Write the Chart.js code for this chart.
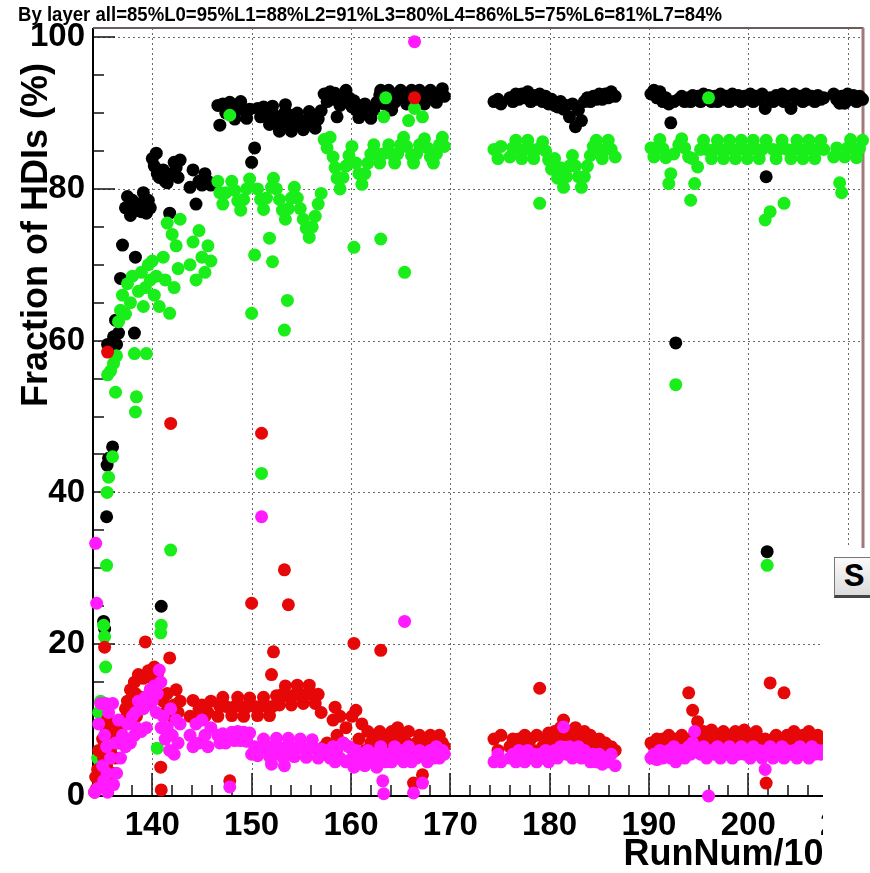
<!DOCTYPE html>
<html>
<head>
<meta charset="utf-8">
<script src="https://cdn.jsdelivr.net/npm/chart.js@4.4.1/dist/chart.umd.min.js"></script>
<style>
  html, body { margin: 0; padding: 0; background: #fff; }
  #wrap { position: relative; width: 870px; height: 873px; overflow: hidden; }
  #cover { position: absolute; left: 823px; top: 548px; width: 47px; height: 325px; background: #fff; }
  #sBtn {
    position: absolute; left: 834px; top: 557px; width: 46px; height: 41px;
    box-sizing: border-box; border: 1px solid #777; border-bottom: 3px solid #444;
    background: linear-gradient(#fafafa, #dcdcdc);
    font: bold 34px "Liberation Mono", monospace; line-height: 38px; padding-left: 9px; color: #000;
  }
</style>
</head>
<body>
<div id="wrap">
  <canvas id="hdiChart" width="870" height="873"></canvas>
  <div id="cover"></div>
  <div id="sBtn">S</div>
</div>
<script>
// HDI fractions per run (run number / 1000), split into run periods.
// Columns: black, green, red, magenta series; null = no point shown.
const rampRuns = [134.2,134.3,134.4,134.5,134.6,134.8,135.0,135.1,135.2,135.3,135.4,135.45,135.5,135.6,135.8,136.0,136.1,136.3,136.4,136.6,136.8,137.0,137.3,137.5,137.8,138.0,138.2,138.3,138.4,138.6,138.9,139.1,139.3,139.4,139.6,139.8];
const rampBlack = [null,null,null,null,null,null,null,23,22,null,36.8,43.6,59.5,44.5,58.8,46,60.5,62.7,59.5,61,68.2,72.6,77.5,79,76.5,78.5,61,71,77.2,78,77,79.5,78,76.8,78.5,77.5];
const rampGreen = [null,null,null,5,11,12.5,10,22.5,21,17,30.4,40,55.5,42,56,44.7,57,53.2,58,62.5,64,66,63.5,67.5,65,68.5,58.3,50.6,52.6,66.5,69,64.5,67,58.3,70,68];
const rampRed = [0.5,2.5,1,3.5,6,1.5,7.5,5,19.6,9,4,10,58.5,2,6,3,8,5,9.5,7,8.5,10,11.5,12.5,14,12,15,13.5,10.5,16,13,15.5,20.3,12,16.5,14];
const rampMagenta = [0.5,33.3,25.4,1,9.5,12.2,4,2,8,12.2,6.5,3,0.5,11,5,12.2,1.5,7,3,10,5,8,6.5,9.5,7,10.5,8,11,9,12.5,8.5,11.5,13,9,12,14];

const riseRuns = [140.0,140.2,140.4,140.5,140.7,140.85,140.9,141.1,141.3,141.5,141.75,141.85,142.0,142.2,142.4,142.6,142.8,143.8,144.1,144.4,144.7,145.0,145.3,145.6,145.9];
const riseBlack = [84,83,84.7,82,81.5,null,25,82.5,81,80.8,76.8,null,82,83.5,82.8,81.5,83.8,80.2,82.5,78,81,80.5,82,81,80.5];
const riseGreen = [70.5,66,68.5,6.3,64.5,21.5,22.5,71,68,75.5,63.6,32.4,74,67,72.5,69.5,76,70,73,68,74.5,71,69,72.5,70.5];
const riseRed = [15.5,17,14,16,13,3.8,0.8,12.5,11,13.5,18.2,49.1,10.5,12,14,11,12.5,10.5,12.6,10,11.5,12,10.5,11,12.5];
const riseMagenta = [12.5,14.5,11,13.5,16.6,15,9,10.5,7.5,9,6,11.5,8,5.5,10,7,9.5,8,6.5,9.5,7,10,8,6.5,9];

const midRuns = [146.6,146.8,147.1,147.4,147.8,148.0,148.3,148.6,148.9,149.2,149.5,149.8,150.0,150.3,150.6,150.9,151.0,151.2,151.5,151.8,152.0,152.1,152.2,152.5,152.8,153.1,153.3,153.4,153.6,153.7,154.0,154.3,154.6,154.9,155.2,155.5,155.8,156.1,156.4,156.7,157.0];
const midBlack = [91,88.4,91.2,90,91.4,90.3,89.2,90.4,91.5,90.4,89.3,90.5,83.5,85.4,90.6,89.5,null,90.8,89.6,88.5,89.7,90.9,89.8,88.6,87.6,88.8,90,91.1,89.9,88.7,87.6,88.8,90,89,87.8,89,90.2,89.1,88,89.2,90.3];
const midGreen = [81,79.5,78,79.5,89.7,81,79.8,78.4,77.2,78.6,80,81.3,63.6,71.3,80,78.6,42.5,77.3,78.8,73.5,80.2,70.4,81.4,80,78.6,77.2,61.4,76,65.3,77.4,78.8,80.2,78.8,77.4,76,74.8,73.6,75,76.4,78,79.4];
const midRed = [10.5,11.8,13,11.8,2,10.6,11.8,13,11.8,10.5,11.7,12.9,25.4,11.8,10.6,11.8,47.8,13,11.8,10.6,16,11.8,19,13.2,12,13.4,29.8,14.5,13.2,25.2,12,13.3,14.6,13.4,12.2,13.4,14.6,13.4,12.2,13.4,11];
const midMagenta = [8,7,8.2,7,1.2,8.4,7.3,8.5,7.3,8.4,7.2,8.3,5.5,6.5,5.3,6.4,36.8,7.5,6.3,5.2,4.2,5.4,6.6,7.6,6.4,5.2,4,5.3,6.5,7.6,6.4,5.2,6.4,7.5,6.3,5.1,6.3,7.4,6.2,5,6.2];

const lateRuns = [157.3,157.6,157.9,158.2,158.4,158.6,158.9,159.2,159.5,159.8,160.1,160.3,160.5,160.8,161.1,161.4,161.7,162.0,162.3,162.6,162.9,163.0,163.2,163.3,163.5,163.8,164.1,164.4,164.7,165.0,165.3,165.4,165.6,165.8,166.1,166.3,166.4,166.6,166.9,167.2,167.4,167.7,168.0,168.3,168.6,168.9,169.2,169.4];
const lateBlack = [92.5,91.5,92.8,91.8,92.6,89.5,91,92.2,93,92,90.8,91.6,90.4,89.4,90.2,91.2,90.2,89.3,90.4,91.4,92.4,93,92,91.2,92.2,93,90.4,91.4,92.4,93,92,null,91.2,92.2,93,92,91.2,92.2,93,92,91.2,92.2,93,92.2,91.4,92.4,93.2,92.2];
const lateGreen = [86.5,85.4,86.8,84.2,82.8,81.4,80,81.5,83,84.4,85.6,72.3,83.4,82,80.6,82,83.4,84.6,85.8,84.6,83.4,73.4,84.6,89.5,92,85.8,84.6,83.4,84.6,85.8,86.8,69,85.6,89,84.4,83.4,90.6,84.6,85.8,89.5,86.6,85.4,84.2,83.4,84.6,85.8,86.8,85.6];
const lateRed = [6.5,7,6,10,11.7,8,10.5,7,9,6.5,10.5,20.1,11.3,7.5,9.5,6,8.5,7,8,6.5,8.5,19.2,7.5,6,8,6.5,8.5,7,9,7.5,8,6.5,7,8.5,6.5,1.7,92,7,8,2.8,7.5,6.5,8,7,6.5,8,7,6.5];
const lateMagenta = [5.5,6,5,6.5,4.5,6,5,7,4.5,6.5,5,3.8,6,4.5,5.5,4,6,4.5,5.5,3.8,5,6.5,2,0.3,4.5,5.5,4.5,6.5,5,6,4.5,23,5.5,6.5,4.5,0.4,99.4,5,6,1.7,5.5,4.5,6,5,6.5,5,6,5.5];

const blockCRuns = [174.4,174.8,175.1,176.0,176.3,176.6,176.9,177.2,177.5,177.8,178.1,178.4,178.7,179.0,179.3,179.6,179.9,180.2,180.5,180.8,181.1,181.4,181.7,182.0,182.3,182.6,182.9,183.2,183.5,183.8,184.1,184.4,184.7,185.0,185.3,185.6,185.9,186.2,186.6];
const blockCBlack = [91.5,91.8,91.2,92,91.5,92.5,91.8,92.5,92,92.8,91.5,92.3,91.8,92.5,91.5,92.2,91.2,91.8,91,90.8,91.5,90.5,91,89.5,91.2,88.2,90.4,89,91.5,92,91.5,92.2,91.8,92.5,91.8,92.5,92,92.8,92.2];
const blockCGreen = [85.2,84,85.6,84.2,85.4,86.4,85.2,84,85.2,86.4,85.2,84,85.2,78.1,86.2,85,83.8,82.6,84,81.4,82.8,80.2,81.6,83,84.4,83,81.6,80.2,81.6,83,84.4,85.6,86.4,85.2,84,85.2,86.4,85.2,84.2];
const blockCRed = [7.5,6,8,6.5,7.5,6,7.5,6.5,8,6.5,7.5,6,8,14.2,6.5,7.5,8.3,7,8.5,7.5,9,10,8,8.5,7.5,9,8,7,8.5,7.5,8,7,6.5,7.5,6,7,5.8,6.5,6];
const blockCMagenta = [4.5,5.5,4.5,5,5.5,4.5,6,5,4.5,6,5,5.5,4.5,5.5,5,6,4.5,5.5,6,5,6.5,9.1,5.5,6.5,5,6,6.5,5,6,5.5,4.5,5.5,4.5,5.5,4.2,5,4.5,5.5,4];

const blockDRuns = [190.2,190.5,190.8,191.1,191.4,191.7,192.0,192.2,192.5,192.7,193.0,193.3,193.6,194.0,194.2,194.4,194.6,194.9,195.2,195.5,195.8,196.0,196.3,196.6,196.9,197.2,197.5,197.8,198.1,198.4,198.7,199.0,199.3,199.6,199.9,200.2,200.5,200.8,201.1,201.4,201.7,201.8,201.9,202.2,202.5,202.8,203.1,203.4,203.6,203.9,204.3,204.6,204.9,205.2,205.5,205.8,206.1,206.4,206.7,207.0,207.3,207.6,208.6,208.9,209.2,209.4,209.7,210.0,210.3,210.6,210.9,211.2,211.5];
const blockDBlack = [92.5,93,92,92.8,91.5,92,91.2,88.7,91.5,59.7,91.8,92.2,91.5,92,91.5,92.3,91.8,92.2,91.5,92.5,91.8,92.3,91.5,92.2,91.5,92.5,91.8,92.2,91.5,92.5,91.8,92.3,91.5,92.2,91.8,92.5,91.5,92.2,91.8,92.5,90.6,81.6,32.2,92,91.5,92.3,91.8,92.5,91.5,92.2,90.6,92.5,91.8,92.2,91.5,92.5,91.8,92.2,91.5,92.3,91.8,92,92.5,91.8,91.3,92.2,91.3,92.5,91.8,92.3,91.5,92.2,91.8];
const blockDGreen = [85.4,84.2,85.4,86.5,85.3,84.1,80.7,82,84.6,54.2,85.8,86.6,85.4,84.2,78.5,84,80.7,82.9,85.2,86.4,85.2,92,84,85.2,86.4,85.2,84,85.2,86.4,85.2,84,85.2,86.4,85.2,84,85.2,86.4,85.2,84,85.2,75.9,86.4,30.4,77,85.2,84,85.2,86.4,78.1,85.2,84,85.2,86.4,85.2,84,85.2,86.4,85.2,84,85.2,86.4,85.2,84.2,85.4,80.8,79.5,84.2,85.4,86.5,85.3,84.1,85.3,86.4];
const blockDRed = [7,6.5,7.5,6.5,7.5,6.5,8,7,7.5,6,7,8,6.5,13.6,7.5,11.3,8,9.8,7.5,8.5,7.5,6.5,8.7,7.5,8,7,8.5,7.5,8,7,8.5,7.5,8,8.7,7.5,8,7,8.5,7.5,7,7.5,1.7,7,14.9,7.5,8,7,7.5,13.6,8,7,8.5,7,7.5,8,7,8.5,7.5,7,8,7.5,7,7.5,8,7,7.5,8,7,7.5,8,7,7.5,8];
const blockDMagenta = [5,5.5,4.8,6,5,5.5,6,5,6.5,4.5,5.5,6,5,6.5,5.5,7,8.5,6,5.5,6.5,5,0,6,5.5,6.5,5,6,5.5,6.5,5,6,5.5,6.5,5.5,6,5,6.5,5.5,6,5,3.5,6,5.5,6.5,5,6,5.5,6.5,5,6,5.5,6,5,6.5,5.5,6,5,6.5,5.5,6,5.5,6,5.5,6,5,6,5.5,6,5,6.5,5.5,6,5.5];

const headerText = "By layer all=85%L0=95%L1=88%L2=91%L3=80%L4=86%L5=75%L6=81%L7=84%";
const yTitle = "Fraction of HDIs (%)";
const xTitle = "RunNum/1000";

const runs = [...rampRuns, ...riseRuns, ...midRuns, ...lateRuns, ...blockCRuns, ...blockDRuns];
const blackVals = [...rampBlack, ...riseBlack, ...midBlack, ...lateBlack, ...blockCBlack, ...blockDBlack];
const greenVals = [...rampGreen, ...riseGreen, ...midGreen, ...lateGreen, ...blockCGreen, ...blockDGreen];
const redVals = [...rampRed, ...riseRed, ...midRed, ...lateRed, ...blockCRed, ...blockDRed];
const magentaVals = [...rampMagenta, ...riseMagenta, ...midMagenta, ...lateMagenta, ...blockCMagenta, ...blockDMagenta];

const FONT = '"Liberation Sans", Arial, Helvetica, sans-serif';

function toPoints(vals) {
  return runs.map((r, i) => ({ x: r, y: vals[i] })).filter((p) => p.y !== null);
}

function series(vals, color, order) {
  return {
    data: toPoints(vals),
    pointRadius: 6.5,
    pointHoverRadius: 6.5,
    pointBorderWidth: 0,
    pointBackgroundColor: color,
    borderColor: color,
    backgroundColor: color,
    showLine: false,
    clip: false,
    order: order,
  };
}

// ROOT-like frame: dotted grid, inner tick marks, axis lines, header and y title
const rootFrame = {
  id: "rootFrame",
  beforeDatasetsDraw(chart) {
    const { ctx, chartArea: a } = chart;
    const x = chart.scales.x;
    const y = chart.scales.y;
    ctx.save();

    ctx.strokeStyle = "#6a6a6a";
    ctx.lineWidth = 1;
    ctx.setLineDash([2, 3]);
    x.ticks.forEach((t) => {
      const px = Math.round(x.getPixelForValue(t.value)) + 0.5;
      ctx.beginPath(); ctx.moveTo(px, a.top); ctx.lineTo(px, a.bottom); ctx.stroke();
    });
    y.ticks.forEach((t) => {
      if (t.value === 0) return;
      const py = Math.round(y.getPixelForValue(t.value)) + 0.5;
      ctx.beginPath(); ctx.moveTo(a.left, py); ctx.lineTo(a.right, py); ctx.stroke();
    });
    ctx.setLineDash([]);

    ctx.strokeStyle = "#111";
    ctx.lineWidth = 1.5;
    for (let v = Math.ceil(x.min / 2) * 2; v <= x.max; v += 2) {
      const px = Math.round(x.getPixelForValue(v));
      const len = v % 10 === 0 ? 23 : 11;
      ctx.beginPath(); ctx.moveTo(px, a.bottom); ctx.lineTo(px, a.bottom - len); ctx.stroke();
    }
    for (let v = 0; v <= y.max; v += 5) {
      const py = Math.round(y.getPixelForValue(v));
      const len = v % 20 === 0 ? 22 : 11;
      ctx.beginPath(); ctx.moveTo(a.left, py); ctx.lineTo(a.left + len, py); ctx.stroke();
    }

    ctx.lineWidth = 2;
    ctx.strokeStyle = "#000";
    ctx.beginPath();
    ctx.moveTo(a.left, a.top); ctx.lineTo(a.left, a.bottom); ctx.lineTo(a.right, a.bottom);
    ctx.stroke();
    ctx.strokeStyle = "#6d5c5c";
    ctx.beginPath(); ctx.moveTo(a.left, a.top); ctx.lineTo(a.right, a.top); ctx.stroke();
    ctx.strokeStyle = "#a07a7a";
    ctx.lineWidth = 3;
    ctx.beginPath(); ctx.moveTo(a.right - 0.5, a.top); ctx.lineTo(a.right - 0.5, a.bottom); ctx.stroke();
    ctx.restore();
  },
  afterDraw(chart) {
    const { ctx } = chart;
    ctx.save();
    ctx.fillStyle = "#000";
    ctx.font = "bold 20px " + FONT;
    ctx.textAlign = "left";
    ctx.textBaseline = "alphabetic";
    const w = ctx.measureText(headerText).width;
    ctx.translate(18, 21);
    ctx.scale(704 / w, 1);
    ctx.fillText(headerText, 0, 0);
    ctx.restore();

    ctx.save();
    ctx.fillStyle = "#000";
    ctx.font = "bold 36px " + FONT;
    ctx.textAlign = "center";
    ctx.textBaseline = "middle";
    ctx.translate(37, 235);
    ctx.rotate(-Math.PI / 2);
    ctx.fillText(yTitle, 0, 0);
    ctx.restore();
  },
};

new Chart(document.getElementById("hdiChart"), {
  type: "scatter",
  data: {
    datasets: [
      series(blackVals, "#000000", 4),
      series(greenVals, "#1aee1a", 3),
      series(redVals, "#e60808", 2),
      series(magentaVals, "#ff1aff", 1),
    ],
  },
  options: {
    responsive: false,
    animation: false,
    devicePixelRatio: 1,
    events: [],
    layout: { padding: { top: 28, right: 4, bottom: 0, left: 0 } },
    plugins: { legend: { display: false }, tooltip: { enabled: false } },
    scales: {
      x: {
        type: "linear",
        position: "bottom",
        min: 134.03,
        max: 211.6,
        grid: { display: false, drawTicks: false },
        border: { display: false },
        ticks: {
          stepSize: 10,
          includeBounds: false,
          autoSkip: false,
          maxRotation: 0,
          padding: 10,
          color: "#000",
          font: { family: FONT, size: 33, weight: "bold" },
        },
        title: {
          display: true,
          text: xTitle,
          align: "end",
          color: "#000",
          padding: 0,
          font: { family: FONT, size: 36, weight: "bold", lineHeight: 1 },
        },
        afterFit(scale) {
          scale.height = 77;
          scale.paddingLeft = 0;
          scale.paddingRight = 0;
        },
      },
      y: {
        type: "linear",
        min: 0,
        max: 101.2,
        grid: { display: false, drawTicks: false },
        border: { display: false },
        ticks: {
          stepSize: 20,
          includeBounds: false,
          autoSkip: false,
          padding: 8,
          color: "#000",
          font: { family: FONT, size: 33, weight: "bold" },
        },
        afterFit(scale) {
          scale.width = 93;
          scale.paddingTop = 0;
          scale.paddingBottom = 0;
        },
      },
    },
  },
  plugins: [rootFrame],
});
</script>
</body>
</html>
